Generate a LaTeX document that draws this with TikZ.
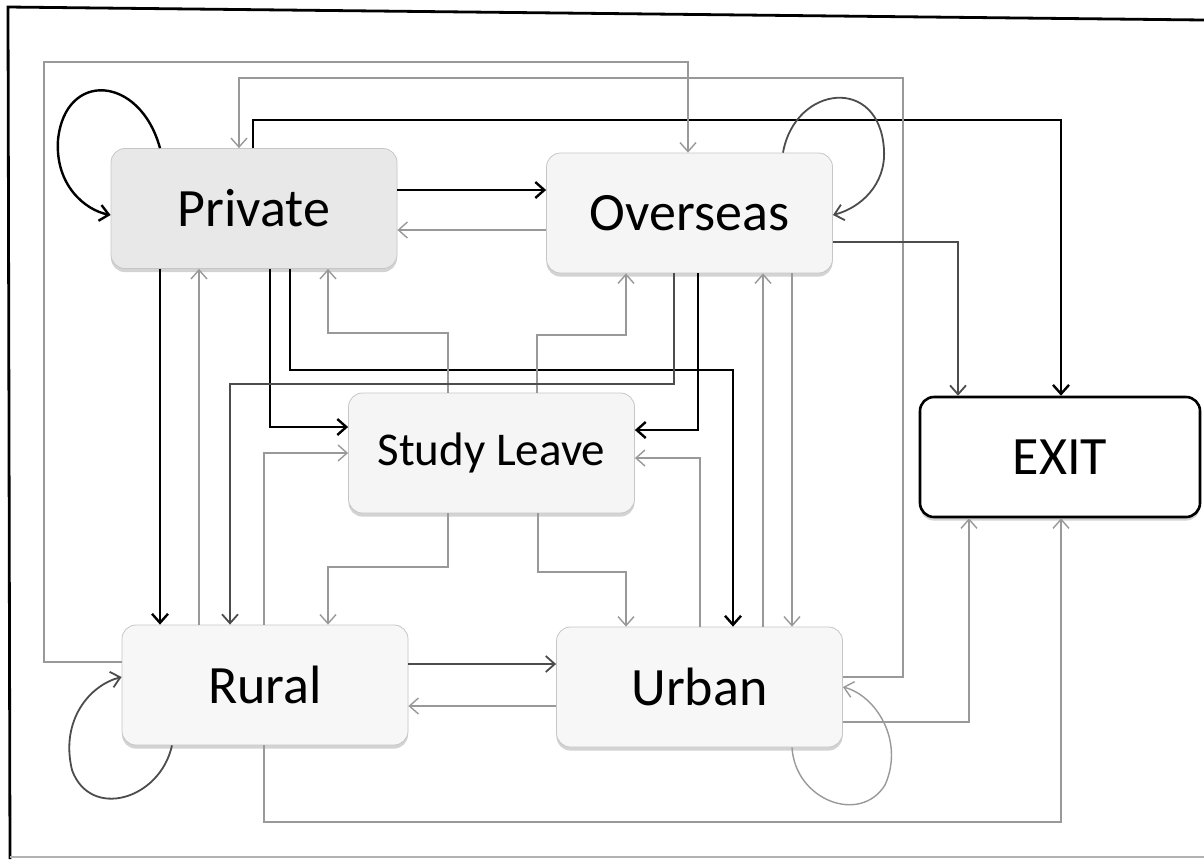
\documentclass[tikz,border=0pt]{standalone}
\usepackage{fontspec}
\setmainfont{Carlito}
\usetikzlibrary{arrows.meta,shadows}

\tikzset{
  box/.style={draw=gray!45, fill=gray!8, rounded corners=7pt, minimum width=143pt,
    minimum height=60pt, inner sep=0pt, font=\fontsize{27}{30}\selectfont,
    drop shadow={shadow xshift=0pt, shadow yshift=-1.8pt, opacity=0.35}},
  tip/.style={-{Straight Barb[length=4.5pt,width=8pt]}},
  bk/.style={tip, draw=black, line width=1.2pt},
  dk/.style={tip, draw=black!70, line width=0.9pt},
  gl/.style={tip, draw=gray!80, line width=0.7pt}
}

\begin{document}
\begin{tikzpicture}[x=0.5pt,y=-0.5pt]
\useasboundingbox (0,0) rectangle (1204,859);
\draw[line width=1.4pt] (1204,20) -- (8,7) -- (10,859);
\draw[gray!60, line width=0.8pt] (10,857) -- (1204,857);

\node[box, fill=gray!18] (private) at (254,208.5) {Private};
\node[box] (overseas) at (689.5,213) {Overseas};
\node[box, font=\fontsize{23.5}{26}\selectfont] (study) at (491.5,453) {Study Leave};
\node[box, fill=white, draw=black, line width=1.3pt, minimum width=140pt] (exit) at (1060,457) {EXIT};
\node[box, fill=gray!6] (rural) at (265,685) {Rural};
\node[box, fill=gray!6] (urban) at (699.5,687) {Urban};

\draw[bk] (private.north -| 160,0) .. controls (140,75) and (65,70) .. (58,140)
  .. controls (55,185) and (85,210) .. (private.west |- 0,215);
\draw[bk] (private.east |- 0,190) -- (overseas.west |- 0,190);
\draw[gl] (overseas.west |- 0,230) -- (private.east |- 0,230);
\draw[bk] (private.north -| 253,0) |- (1061,120) -- (exit.north -| 1061,0);
\draw[gl] (urban.east |- 0,677) -| (903,78) -| (private.north -| 239,0);
\draw[gl] (rural.west |- 0,662) -| (44,62) -| (overseas.north -| 688,0);
\draw[dk] (overseas.north -| 783,0) .. controls (795,85) and (880,75) .. (884,150)
  .. controls (886,185) and (860,208) .. (overseas.east |- 0,215);
\draw[dk] (overseas.east |- 0,242) -| (exit.north -| 958,0);

\draw[bk] (private.south -| 160,0) -- (rural.north -| 160,0);
\draw[gl] (rural.north -| 199,0) -- (private.south -| 199,0);
\draw[bk] (private.south -| 270,0) |- (study.west |- 0,427);
\draw[bk] (private.south -| 290,0) |- (733,370) -- (urban.north -| 733,0);
\draw[gl] (study.north -| 448,0) |- (328,333) -- (private.south -| 328,0);
\draw[gl] (study.north -| 537,0) |- (626,335) -- (overseas.south -| 626,0);
\draw[dk] (overseas.south -| 674,0) |- (230,384) -- (rural.north -| 230,0);
\draw[bk] (overseas.south -| 698,0) |- (study.east |- 0,430);
\draw[gl] (urban.north -| 763,0) -- (overseas.south -| 763,0);
\draw[gl] (overseas.south -| 792,0) -- (urban.north -| 792,0);

\draw[gl] (rural.north -| 264,0) |- (study.west |- 0,453);
\draw[gl] (urban.north -| 700,0) |- (study.east |- 0,458);
\draw[gl] (study.south -| 448,0) |- (328,567) -- (rural.north -| 328,0);
\draw[gl] (study.south -| 538,0) |- (626,572) -- (urban.north -| 626,0);

\draw[dk] (rural.east |- 0,664) -- (urban.west |- 0,664);
\draw[gl] (urban.west |- 0,706) -- (rural.east |- 0,706);
\draw[gl] (urban.east |- 0,722) -| (exit.south -| 969,0);
\draw[gl] (rural.south -| 264,0) |- (1061,822) -- (exit.south -| 1061,0);
\draw[dk] (rural.south -| 172,0) .. controls (160,800) and (90,820) .. (72,770)
  .. controls (60,720) and (90,685) .. (rural.west |- 0,677);
\draw[gl] (urban.south -| 792,0) .. controls (795,800) and (860,825) .. (885,785)
  .. controls (905,740) and (875,695) .. (urban.east |- 0,687);
\end{tikzpicture}
\end{document}
